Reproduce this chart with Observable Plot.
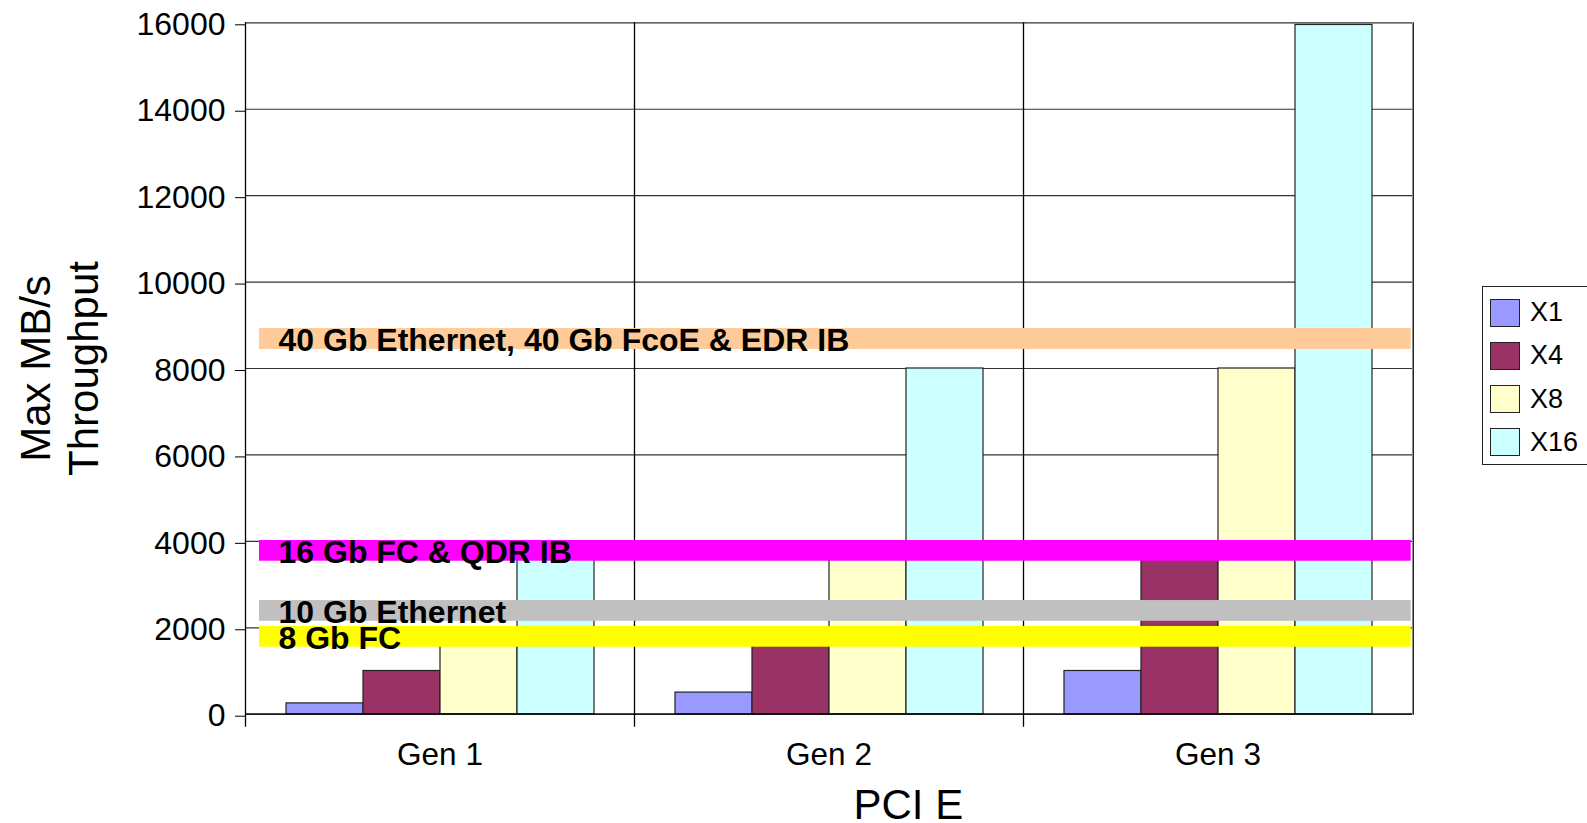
<!DOCTYPE html>
<html><head><meta charset="utf-8">
<script src="https://cdn.jsdelivr.net/npm/d3@7"></script>
<script src="https://cdn.jsdelivr.net/npm/@observablehq/plot@0.6"></script>
<style>
html,body{margin:0;padding:0;background:#fff;overflow:hidden;}
#chart{position:relative;width:1587px;height:823px;font-family:"Liberation Sans",Arial,sans-serif;}
#chart svg{position:absolute;left:0;top:0;}
#legend{position:absolute;left:1482px;top:286px;width:130px;height:179px;border:1px solid #222;box-sizing:border-box;background:#fff;}
.item{position:absolute;left:7px;height:28px;display:flex;align-items:center;font-size:27px;color:#000;}
.sw{width:30px;height:28px;box-sizing:border-box;border:1px solid #222;margin-right:10px;}
</style></head><body><div id="chart"></div>
<script>
const generations = ["Gen 1", "Gen 2", "Gen 3"];
const series = ["X1", "X4", "X8", "X16"];
const seriesColors = ["#9999FF", "#993366", "#FFFFCC", "#CCFFFF"];
const valuesX1 = [250, 500, 1000];
const valuesX4 = [1000, 2000, 4000];
const valuesX8 = [2000, 4000, 8000];
const valuesX16 = [4000, 8000, 15950];
const bandLabels = ["40 Gb Ethernet, 40 Gb FcoE & EDR IB", "16 Gb FC & QDR IB", "10 Gb Ethernet", "8 Gb FC"];
const bandLow = [8440, 3540, 2150, 1550];
const bandHigh = [8925, 4020, 2630, 2030];
const bandColors = ["#FFCC99", "#FF00FF", "#C0C0C0", "#FFFF00"];
const yTicks = [0, 2000, 4000, 6000, 8000, 10000, 12000, 14000, 16000];
const yTitle = "Max MB/s\nThroughput";
const xTitle = "PCI E";

const seriesValues = [valuesX1, valuesX4, valuesX8, valuesX16];
const data = [];
generations.forEach((g, gi) => series.forEach((s, si) => data.push({gen: g, series: s, value: seriesValues[si][gi]})));
const bands = bandLabels.map((label, i) => ({label, low: bandLow[i], high: bandHigh[i], color: bandColors[i]}));

const W = 1587, H = 823;
const mL = 245, mR = 174.3, mT = 22.3, mB = 109.3;
const font = '"Liberation Sans", Arial, sans-serif';
const common = {width: W, height: H, marginLeft: mL, marginRight: mR, marginTop: mT, marginBottom: mB,
  style: {fontFamily: font, color: "#000", background: "transparent"}};

// Base chart: grid, bars, axes (faceted by generation)
const chart = Plot.plot({
  ...common,
  fx: {domain: generations, padding: 0, label: null},
  x: {domain: series, paddingInner: 0, paddingOuter: 0.5, axis: null},
  y: {domain: [0, 16000], label: null},
  color: {domain: series, range: seriesColors},
  marks: [
    Plot.gridY(yTicks, {stroke: "#333", strokeOpacity: 1, strokeWidth: 1.2}),
    Plot.frame({anchor: "left", stroke: "#000", strokeWidth: 1.3, insetBottom: -12}),
    Plot.barY(data, {fx: "gen", x: "series", y: "value", fill: "series", stroke: "#222", strokeWidth: 1.2}),
    Plot.ruleY([0], {stroke: "#000", strokeWidth: 1.3}),
    Plot.axisY(yTicks, {tickSize: 10, tickPadding: 10, fontSize: 32, label: null, stroke: "#000", dy: 2,
      tickFormat: d => String(d)}),
    Plot.axisFx({anchor: "bottom", tickSize: 0, tickPadding: 28, fontSize: 31.5, label: null})
  ]
});

// Overlay: interface bands, their labels, right border and axis titles
const overlay = Plot.plot({
  ...common,
  x: {axis: null},
  y: {domain: [0, 16000], axis: null},
  marks: [
    Plot.frame({anchor: "right", stroke: "#000", strokeWidth: 1.3}),
    ...bands.map(b => Plot.rect([b], {y1: "low", y2: "high", fill: b.color, insetLeft: 14, insetRight: 2})),
    Plot.text(bands, {y: d => (d.low + d.high) / 2, text: "label", frameAnchor: "left", textAnchor: "start", dx: 33, dy: 1.5,
      lineAnchor: "middle", fontWeight: "bold", fontSize: 32, fill: "#000"}),
    Plot.text([yTitle], {frameAnchor: "left", dx: -187, rotate: -90, textAnchor: "middle", lineAnchor: "middle",
      lineHeight: 1.16, fontSize: 42, fill: "#000"}),
    Plot.text([xTitle], {frameAnchor: "bottom", dx: 79, dy: 91, textAnchor: "middle", lineAnchor: "middle",
      fontSize: 42, fill: "#000"})
  ]
});

const root = document.getElementById("chart");
root.appendChild(chart);
root.appendChild(overlay);

const legend = d3.select(root).append("div").attr("id", "legend");
series.forEach((s, i) => {
  const item = legend.append("div").attr("class", "item").style("top", (11.5 + i * 43.3) + "px");
  item.append("div").attr("class", "sw").style("background", seriesColors[i]);
  item.append("span").text(s);
});
</script></body></html>
